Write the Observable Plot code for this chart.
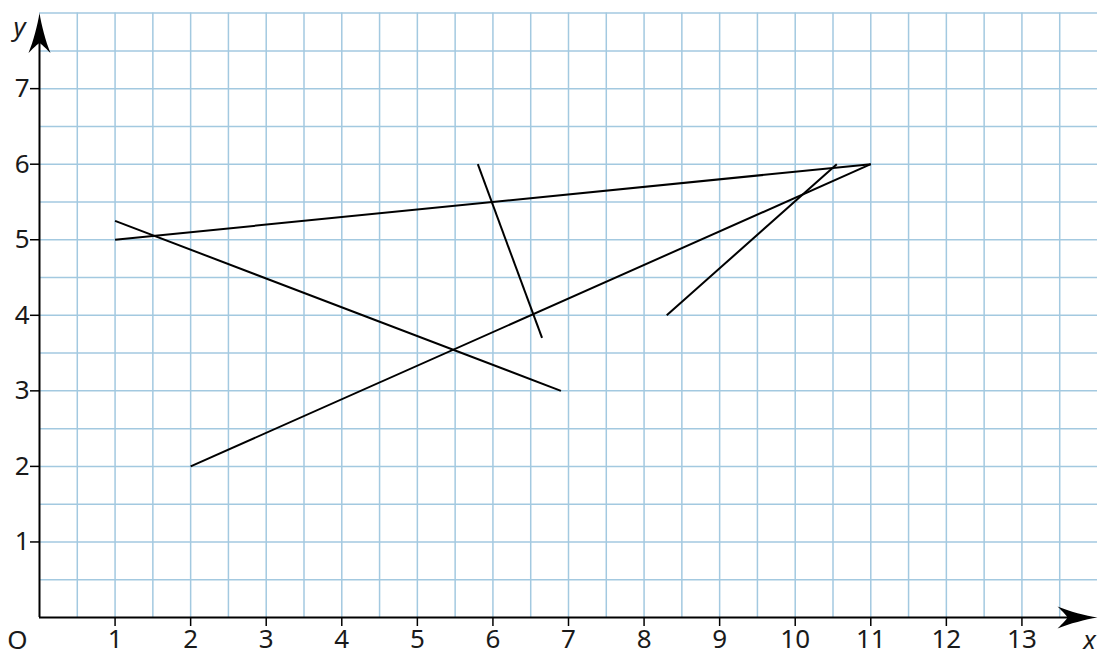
<!DOCTYPE html>
<html>
<head>
<meta charset="utf-8">
<script src="https://cdn.jsdelivr.net/npm/d3@7"></script>
<script src="https://cdn.jsdelivr.net/npm/@observablehq/plot@0.6"></script>
<style>
  html, body { margin: 0; padding: 0; background: #fff; }
  #chart svg { display: block; }
</style>
</head>
<body>
<div id="chart"></div>
<script>
// Segment endpoints
const segX1 = [1, 2, 1, 5.8, 8.3];
const segY1 = [5, 2, 5.25, 6, 4];
const segX2 = [11, 11, 6.9, 6.65, 10.55];
const segY2 = [6, 6, 3, 3.7, 6];

const xTicks = [1, 2, 3, 4, 5, 6, 7, 8, 9, 10, 11, 12, 13];
const yTicks = [1, 2, 3, 4, 5, 6, 7];
const xMax = 14, yMax = 8;

const segments = segX1.map((_, i) => ({x1: segX1[i], y1: segY1[i], x2: segX2[i], y2: segY2[i]}));
const vGrid = d3.range(0.5, xMax, 0.5);
const hGrid = d3.range(0.5, yMax + 0.01, 0.5);

// Filled "stealth" arrowhead, pointing right, tip at origin
const arrowSymbol = {
  draw(ctx) {
    ctx.moveTo(0, 0);
    ctx.bezierCurveTo(-12, -2, -28, -6, -40, -11);
    ctx.bezierCurveTo(-34, -5, -31, -2, -30, 0);
    ctx.bezierCurveTo(-31, 2, -34, 5, -40, 11);
    ctx.bezierCurveTo(-28, 6, -12, 2, 0, 0);
    ctx.closePath();
  }
};

const font = "'Noto Sans', 'Open Sans', sans-serif";
const fs = 26;

const chart = Plot.plot({
  width: 1102,
  height: 656,
  marginLeft: 39,
  marginRight: 5,
  marginTop: 12.6,
  marginBottom: 39,
  x: {domain: [0, xMax]},
  y: {domain: [0, yMax]},
  style: {fontFamily: font, fontSize: fs + "px", color: "#1a1a1a", background: "#fff"},
  marks: [
    Plot.ruleX(vGrid, {x: d => d, y1: 0, y2: yMax, stroke: "#a3c9e0", strokeWidth: 1.5}),
    Plot.ruleY(hGrid, {y: d => d, x1: 0, x2: xMax, stroke: "#a3c9e0", strokeWidth: 1.5}),
    Plot.ruleY([0], {x1: 0, x2: xMax - 0.3, stroke: "#000", strokeWidth: 2}),
    Plot.ruleX([0], {y1: 0, y2: yMax - 0.3, stroke: "#000", strokeWidth: 2}),
    Plot.dot([{x: xMax, y: 0}], {x: "x", y: "y", symbol: arrowSymbol, fill: "#000", stroke: "none", r: 10}),
    Plot.dot([{x: 0, y: yMax}], {x: "x", y: "y", symbol: arrowSymbol, fill: "#000", stroke: "none", r: 10, rotate: -90}),
    Plot.axisX(xTicks, {tickSize: 9, tickPadding: 3, stroke: "#000", strokeWidth: 1.5, fontSize: fs, label: null, tickFormat: d => d}),
    Plot.axisY(yTicks, {tickSize: 9, tickPadding: 1, stroke: "#000", strokeWidth: 1.5, fontSize: fs, label: null, tickFormat: d => d}),
    Plot.text(["O"], {x: 0, y: 0, dx: -22, dy: 23, fontSize: fs, fill: "#1a1a1a"}),
    Plot.text(["x"], {x: xMax, y: 0, dx: -8, dy: 23, fontSize: fs, fontStyle: "italic", fill: "#1a1a1a"}),
    Plot.text(["y"], {x: 0, y: yMax, dx: -20, dy: 15, fontSize: fs, fontStyle: "italic", fill: "#1a1a1a"}),
    Plot.link(segments, {x1: "x1", y1: "y1", x2: "x2", y2: "y2", stroke: "#000", strokeWidth: 2})
  ]
});
document.getElementById("chart").appendChild(chart);
</script>
</body>
</html>
